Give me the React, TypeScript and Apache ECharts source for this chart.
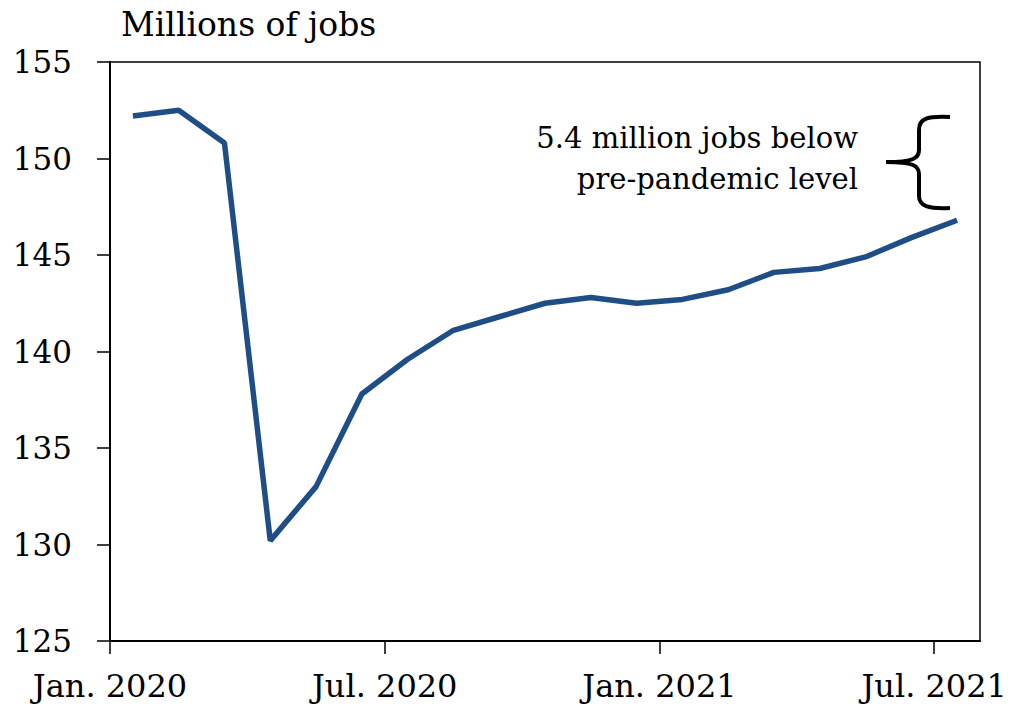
import React, { useEffect, useRef } from "react";
import * as echarts from "echarts";

const months = [
  "Jan 2020", "Feb 2020", "Mar 2020", "Apr 2020", "May 2020", "Jun 2020",
  "Jul 2020", "Aug 2020", "Sep 2020", "Oct 2020", "Nov 2020", "Dec 2020",
  "Jan 2021", "Feb 2021", "Mar 2021", "Apr 2021", "May 2021", "Jun 2021", "Jul 2021",
];
const jobs = [
  152.2, 152.5, 150.8, 130.2, 133.0, 137.8, 139.6, 141.1, 141.8, 142.5,
  142.8, 142.5, 142.7, 143.2, 144.1, 144.3, 144.9, 145.9, 146.8,
];
const tickPositions = [0, 6, 12, 18];
const tickLabels = ["Jan. 2020", "Jul. 2020", "Jan. 2021", "Jul. 2021"];
const yMin = 125;
const yMax = 155;
const yStep = 5;

const FONT = "DejaVu Serif";

const bracePath =
  "M 950 117 C 928 116 919 118 919 130 L 919 150 C 919 158 914 162 886 162 " +
  "M 886 162 C 914 162 919 166 919 174 L 919 196 C 919 206 928 209 950 208";

echarts.graphic.registerShape("brace", echarts.graphic.extendPath(bracePath, {}) as any);

export default function App() {
  const ref = useRef<HTMLDivElement>(null);
  useEffect(() => {
    document.body.style.margin = "0";
    const chart = echarts.init(ref.current!, null, { renderer: "svg" });
    const data = jobs.map((v, i) => [i + 0.5, v]);
    chart.setOption({
      animation: false,
      backgroundColor: "#ffffff",
      textStyle: { fontFamily: FONT },
      grid: {
        left: 110,
        right: 50,
        top: 62,
        bottom: 73,
        show: true,
        borderColor: "#000",
        borderWidth: 1.5,
        backgroundColor: "transparent",
      },
      xAxis: {
        type: "value",
        min: 0,
        max: months.length,
        interval: 6,
        axisLine: { show: true, lineStyle: { color: "#000", width: 2 } },
        axisTick: {
          show: true,
          length: 13,
          lineStyle: { color: "#000", width: 1.5 },
          customValues: tickPositions,
        },
        axisLabel: {
          customValues: tickPositions,
          formatter: (v: number) => {
            const idx = tickPositions.indexOf(Math.round(v));
            return idx >= 0 ? tickLabels[idx] : "";
          },
          color: "#000",
          fontFamily: FONT,
          fontSize: 32,
          margin: 29,
        },
        splitLine: { show: false },
      },
      yAxis: {
        type: "value",
        min: yMin,
        max: yMax,
        interval: yStep,
        axisLine: { show: true, lineStyle: { color: "#000", width: 2 } },
        axisTick: { show: true, length: 13, lineStyle: { color: "#000", width: 1.5 } },
        axisLabel: {
          color: "#000",
          fontFamily: FONT,
          fontSize: 31,
          margin: 38,
        },
        splitLine: { show: false },
      },
      series: [
        {
          type: "line",
          data,
          symbol: "none",
          lineStyle: { color: "#1F4E86", width: 5.5 },
        },
      ],
      graphic: [
        {
          type: "text",
          left: 121,
          top: 8,
          style: {
            text: "Millions of jobs",
            fontFamily: FONT,
            fontSize: 33,
            fill: "#000",
          },
        },
        {
          type: "text",
          x: 858,
          y: 117,
          style: {
            text: "5.4 million jobs below\npre-pandemic level",
            fontFamily: FONT,
            fontSize: 29,
            fill: "#000",
            align: "right",
            lineHeight: 41,
          },
        },
        {
          type: "brace",
          x: 0,
          y: 0,
          style: { stroke: "#000", lineWidth: 4, fill: "none" },
        },
      ],
    });
    return () => chart.dispose();
  }, []);
  return <div ref={ref} style={{ width: 1030, height: 714 }} />;
}
